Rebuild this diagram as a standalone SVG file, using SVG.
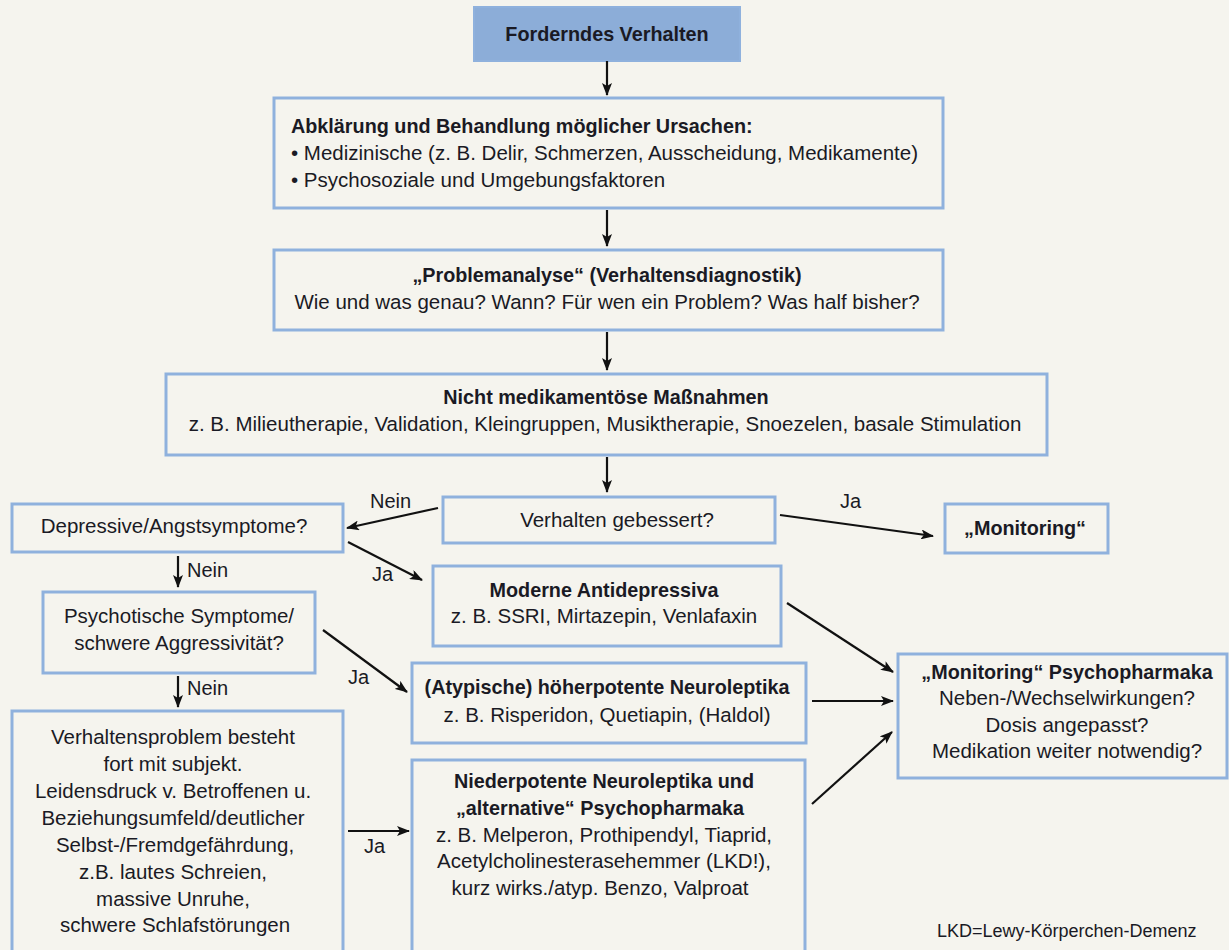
<svg xmlns="http://www.w3.org/2000/svg" width="1229" height="950" viewBox="0 0 1229 950">
<defs>
<marker id="ah" viewBox="0 0 13 10" refX="12" refY="5" markerWidth="13" markerHeight="10" markerUnits="userSpaceOnUse" orient="auto">
<path d="M0,0 L13,5 L0,10 L3,5 Z" fill="#111"/>
</marker>
<style>
.box{fill:#f5f4ee;stroke:#8fb1dd;stroke-width:3}
.top{fill:#8cadd8;stroke:#8fb1dd;stroke-width:2}
text{font-family:"Liberation Sans",Arial,sans-serif;font-size:20.5px;fill:#1a1a24}
.c{text-anchor:middle}
.b{font-weight:bold;font-size:19.8px}
.lbl{font-size:20px}
.conn line{stroke:#111;stroke-width:2.2;marker-end:url(#ah)}
</style>
</defs>
<rect width="1229" height="950" fill="#f5f4ee"/>
<g id="n-start">
<rect class="top" x="474" y="7" width="266" height="54"/>
<text class="c b" x="607" y="41">Forderndes Verhalten</text>
</g>
<g id="n-abklaerung">
<rect class="box" x="274" y="98" width="669" height="110"/>
<text class="b" x="291" y="133">Abklärung und Behandlung möglicher Ursachen:</text>
<text x="291" y="160">• Medizinische (z. B. Delir, Schmerzen, Ausscheidung, Medikamente)</text>
<text x="291" y="187">• Psychosoziale und Umgebungsfaktoren</text>
</g>
<g id="n-problemanalyse">
<rect class="box" x="274" y="250" width="669" height="80"/>
<text class="c b" x="607" y="282">„Problemanalyse“ (Verhaltensdiagnostik)</text>
<text class="c" x="607" y="309">Wie und was genau? Wann? Für wen ein Problem? Was half bisher?</text>
</g>
<g id="n-nichtmed">
<rect class="box" x="166" y="374" width="881" height="81"/>
<text class="c b" x="606" y="404">Nicht medikamentöse Maßnahmen</text>
<text class="c" x="605" y="431">z. B. Milieutherapie, Validation, Kleingruppen, Musiktherapie, Snoezelen, basale Stimulation</text>
</g>
<g id="n-gebessert">
<rect class="box" x="443" y="497" width="332" height="46"/>
<text class="c" x="617" y="527">Verhalten gebessert?</text>
</g>
<g id="n-monitoring">
<rect class="box" x="945" y="504" width="163" height="49"/>
<text class="c b" x="1025" y="535">„Monitoring“</text>
</g>
<g id="n-depressiv">
<rect class="box" x="12" y="504" width="331" height="48"/>
<text class="c" x="174" y="533">Depressive/Angstsymptome?</text>
</g>
<g id="n-antidepressiva">
<rect class="box" x="433" y="566" width="348" height="80"/>
<text class="c b" x="604" y="597">Moderne Antidepressiva</text>
<text class="c" x="604" y="623">z. B. SSRI, Mirtazepin, Venlafaxin</text>
</g>
<g id="n-psychotisch">
<rect class="box" x="43" y="592" width="272" height="81"/>
<text class="c" x="179" y="623">Psychotische Symptome/</text>
<text class="c" x="179" y="650">schwere Aggressivität?</text>
</g>
<g id="n-atypische">
<rect class="box" x="412" y="663" width="394" height="80"/>
<text class="c b" x="607" y="694">(Atypische) höherpotente Neuroleptika</text>
<text class="c" x="607" y="722">z. B. Risperidon, Quetiapin, (Haldol)</text>
</g>
<g id="n-monpharm">
<rect class="box" x="898" y="654" width="329" height="124"/>
<text class="c b" x="1067" y="679">„Monitoring“ Psychopharmaka</text>
<text class="c" x="1067" y="705">Neben-/Wechselwirkungen?</text>
<text class="c" x="1067" y="732">Dosis angepasst?</text>
<text class="c" x="1067" y="758">Medikation weiter notwendig?</text>
</g>
<g id="n-verhaltensproblem">
<rect class="box" x="12" y="711" width="331" height="260"/>
<text class="c" x="173" y="744">Verhaltensproblem besteht</text>
<text class="c" x="173" y="771">fort mit subjekt.</text>
<text class="c" x="173" y="798">Leidensdruck v. Betroffenen u.</text>
<text class="c" x="173" y="825">Beziehungsumfeld/deutlicher</text>
<text class="c" x="175" y="852">Selbst-/Fremdgefährdung,</text>
<text class="c" x="173" y="879">z.B. lautes Schreien,</text>
<text class="c" x="173" y="906">massive Unruhe,</text>
<text class="c" x="175" y="932">schwere Schlafstörungen</text>
</g>
<g id="n-niederpotente">
<rect class="box" x="412" y="760" width="393" height="220"/>
<text class="c b" x="604" y="788">Niederpotente Neuroleptika und</text>
<text class="c b" x="600" y="815">„alternative“ Psychopharmaka</text>
<text class="c" x="604" y="842">z. B. Melperon, Prothipendyl, Tiaprid,</text>
<text class="c" x="604" y="868">Acetylcholinesterasehemmer (LKD!),</text>
<text class="c" x="600" y="895">kurz wirks./atyp. Benzo, Valproat</text>
</g>
<g id="connectors" class="conn">
<line x1="607" y1="61" x2="607" y2="95"/>
<line x1="607" y1="210" x2="607" y2="246"/>
<line x1="607" y1="332" x2="607" y2="370"/>
<line x1="607" y1="457" x2="607" y2="492"/>
<line x1="438" y1="508" x2="347" y2="528"/>
<line x1="780" y1="515" x2="933" y2="536"/>
<line x1="178" y1="556" x2="178" y2="587"/>
<line x1="348" y1="542" x2="422" y2="580"/>
<line x1="323" y1="630" x2="407" y2="692"/>
<line x1="178" y1="676" x2="178" y2="707"/>
<line x1="348" y1="831" x2="409" y2="831"/>
<line x1="787" y1="603" x2="893" y2="672"/>
<line x1="812" y1="701" x2="893" y2="701"/>
<line x1="812" y1="804" x2="892" y2="732"/>
</g>
<g id="labels">
<text class="lbl" x="370" y="508">Nein</text>
<text class="lbl" x="840" y="508">Ja</text>
<text class="lbl" x="187" y="577">Nein</text>
<text class="lbl" x="372" y="581">Ja</text>
<text class="lbl" x="348" y="684">Ja</text>
<text class="lbl" x="187" y="695">Nein</text>
<text class="lbl" x="364" y="853">Ja</text>
<text x="937" y="937" style="font-size:18px">LKD=Lewy-Körperchen-Demenz</text>
</g>
</svg>
